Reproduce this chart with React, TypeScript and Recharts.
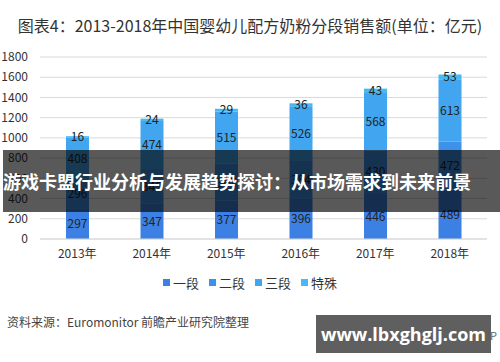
import React from 'react';
import { BarChart, Bar, XAxis, YAxis, CartesianGrid, LabelList } from 'recharts';

const years = ['2013年', '2014年', '2015年', '2016年', '2017年', '2018年'];
const stage1 = [297, 347, 377, 396, 446, 489];
const stage2 = [296, 345, 367, 384, 430, 472];
const stage3 = [408, 474, 515, 526, 568, 613];
const special = [16, 24, 29, 36, 43, 53];
const yTicks = [0, 200, 400, 600, 800, 1000, 1200, 1400, 1600, 1800];

const FONT = '"Noto Sans CJK SC", "Noto Sans", sans-serif';

const data = years.map((y, i) => ({
  year: y,
  一段: stage1[i],
  二段: stage2[i],
  三段: stage3[i],
  特殊: special[i],
}));

const series = [
  { key: '一段', color: '#3d80e3' },
  { key: '二段', color: '#3e91e8' },
  { key: '三段', color: '#41a6ef' },
  { key: '特殊', color: '#47b9f5' },
];

export default function App() {
  return (
    <div style={{ position: 'absolute', left: 0, top: 0, width: 500, height: 362, background: '#fff', fontFamily: FONT, overflow: 'hidden' }}>
      <div style={{ position: 'absolute', left: 0, top: 13, width: 500, textAlign: 'center', fontSize: 16, color: '#333' }}>
        图表4：2013-2018年中国婴幼儿配方奶粉分段销售额(单位：亿元)
      </div>
      <BarChart
        width={500}
        height={362}
        data={data}
        margin={{ top: 57, right: 13, bottom: 93, left: 0 }}
        barSize={23}
        style={{ fontFamily: FONT }}
      >
        <CartesianGrid vertical={false} stroke="#d9d9d9" />
        <XAxis
          dataKey="year"
          height={30}
          axisLine={{ stroke: '#d9d9d9' }}
          tickLine={false}
          tickSize={0}
          tickMargin={10}
          interval={0}
          tick={{ fontSize: 12, fill: '#333' }}
        />
        <YAxis
          width={40}
          domain={[0, 1800]}
          ticks={yTicks}
          interval={0}
          axisLine={false}
          tickLine={false}
          tickSize={0}
          tickMargin={12}
          tick={{ fontSize: 12, fill: '#333' }}
        />
        {series.map((s) => (
          <Bar key={s.key} dataKey={s.key} stackId="a" fill={s.color} isAnimationActive={false}>
            <LabelList dataKey={s.key} position="center" fill="#222" fontSize={12} />
          </Bar>
        ))}
      </BarChart>
      <div style={{ position: 'absolute', left: 0, top: 273, width: 500, display: 'flex', justifyContent: 'center', fontSize: 13, color: '#333' }}>
        {series.map((s) => (
          <div key={s.key} style={{ display: 'flex', alignItems: 'center', margin: '0 5px' }}>
            <span style={{ width: 7, height: 7, background: s.color, marginRight: 3, display: 'inline-block' }} />
            <span>{s.key}</span>
          </div>
        ))}
      </div>
      <div style={{ position: 'absolute', left: 7, top: 313, fontSize: 12, color: '#444' }}>
        资料来源：Euromonitor 前瞻产业研究院整理
      </div>
      <div style={{ position: 'absolute', right: 3, top: 327, fontSize: 11, color: '#666', whiteSpace: 'nowrap' }}>
        ©前瞻经济学人APP
      </div>
      <div
        style={{
          position: 'absolute', left: 3, top: 150, width: 497, height: 62,
          background: 'rgba(0,0,0,0.65)', color: '#fff', fontWeight: 'bold',
          fontSize: 18, lineHeight: '62px', whiteSpace: 'nowrap',
        }}
      >
        游戏卡盟行业分析与发展趋势探讨：从市场需求到未来前景
      </div>
      <div
        style={{
          position: 'absolute', left: 316, top: 315, width: 175, height: 38,
          background: '#5f5f5f', color: '#fff', fontWeight: 'bold', fontSize: 18,
          lineHeight: '38px', textAlign: 'center', fontFamily: '"Open Sans", "DejaVu Sans", sans-serif',
        }}
      >
        www.lbxghglj.com
      </div>
    </div>
  );
}
